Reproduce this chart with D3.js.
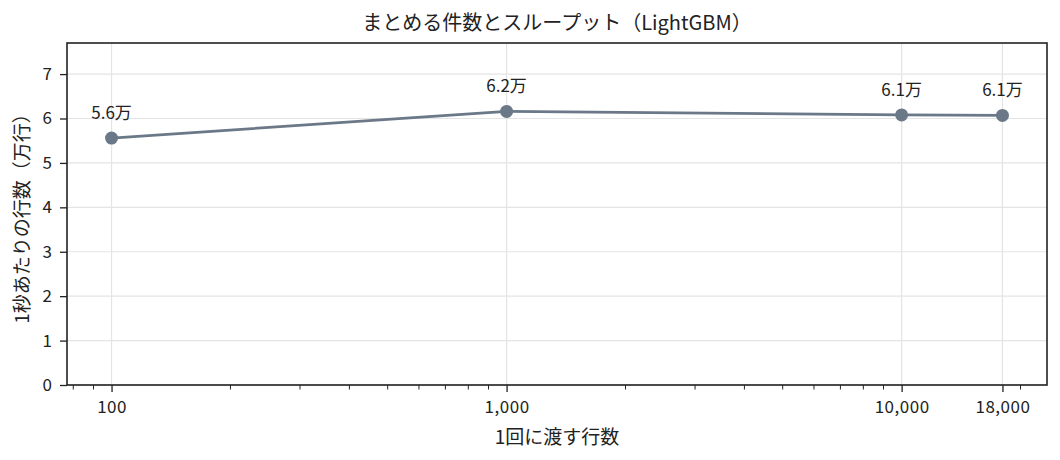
<!DOCTYPE html>
<html>
<head>
<meta charset="utf-8">
<script src="https://cdn.jsdelivr.net/npm/d3@7"></script>
<style>
  body { margin: 0; background: #fff; }
  svg text { font-family: "Noto Sans CJK JP", "Noto Sans", sans-serif; fill: #222; }
</style>
</head>
<body>
<div id="chart"></div>
<script>
// Data
var batchSizes = [100, 1000, 10000, 18000];
var throughput = [5.56, 6.16, 6.08, 6.07];   // 万行 / 秒
var pointLabels = ["5.6万", "6.2万", "6.1万", "6.1万"];
var yTicks = [0, 1, 2, 3, 4, 5, 6, 7];

var W = 1060, H = 460;
var margin = {top: 43, right: 13, bottom: 75, left: 67},
    width = W - margin.left - margin.right,
    height = H - margin.top - margin.bottom;

var svg = d3.select("#chart").append("svg")
    .attr("width", W).attr("height", H);

var g = svg.append("g")
    .attr("transform", "translate(" + margin.left + "," + margin.top + ")");

// log x range with 5% padding like matplotlib
var lo = Math.log10(100), hi = Math.log10(18000), pad = (hi - lo) * 0.05;
var x = d3.scaleLog()
    .domain([Math.pow(10, lo - pad), Math.pow(10, hi + pad)])
    .range([0, width]);
var y = d3.scaleLinear().domain([0, 7.7]).range([height, 0]);

// grid
g.append("g").selectAll("line").data(batchSizes).enter().append("line")
    .attr("x1", function(d) { return x(d); }).attr("x2", function(d) { return x(d); })
    .attr("y1", 0).attr("y2", height)
    .attr("stroke", "#e4e4e4").attr("stroke-width", 1.2);
g.append("g").selectAll("line").data(yTicks).enter().append("line")
    .attr("x1", 0).attr("x2", width)
    .attr("y1", function(d) { return y(d); }).attr("y2", function(d) { return y(d); })
    .attr("stroke", "#e4e4e4").attr("stroke-width", 1.2);

// minor x ticks
var minor = x.ticks().filter(function(d) { return batchSizes.indexOf(d) < 0; });
g.append("g").attr("transform", "translate(0," + height + ")")
  .selectAll("line").data(minor).enter().append("line")
    .attr("x1", function(d) { return x(d); }).attr("x2", function(d) { return x(d); })
    .attr("y1", 0).attr("y2", 4.5)
    .attr("stroke", "#222").attr("stroke-width", 1);

// x axis
var xAxis = g.append("g")
    .attr("transform", "translate(0," + height + ")")
    .call(d3.axisBottom(x).tickValues(batchSizes).tickFormat(d3.format(",")).tickSize(7).tickPadding(9));
xAxis.select(".domain").remove();
xAxis.selectAll("line").attr("stroke", "#222").attr("stroke-width", 1.3);
xAxis.selectAll("text").style("font-size", "17px").style("letter-spacing", "0.5px");

// y axis
var yAxis = g.append("g")
    .call(d3.axisLeft(y).tickValues(yTicks).tickSize(7).tickPadding(8));
yAxis.select(".domain").remove();
yAxis.selectAll("line").attr("stroke", "#222").attr("stroke-width", 1.3);
yAxis.selectAll("text").style("font-size", "17px");

// frame
g.append("rect").attr("width", width).attr("height", height)
    .attr("fill", "none").attr("stroke", "#222").attr("stroke-width", 1.6);

// line + markers
var pts = batchSizes.map(function(d, i) { return {x: d, y: throughput[i], label: pointLabels[i]}; });
var line = d3.line().x(function(d) { return x(d.x); }).y(function(d) { return y(d.y); });
g.append("path").datum(pts).attr("d", line)
    .attr("fill", "none").attr("stroke", "#6b7888").attr("stroke-width", 2.8);
g.selectAll("circle").data(pts).enter().append("circle")
    .attr("cx", function(d) { return x(d.x); }).attr("cy", function(d) { return y(d.y); })
    .attr("r", 6.5).attr("fill", "#6b7888");
g.selectAll(".lbl").data(pts).enter().append("text")
    .attr("x", function(d) { return x(d.x); }).attr("y", function(d) { return y(d.y) - 19; })
    .attr("text-anchor", "middle").style("font-size", "17px")
    .text(function(d) { return d.label; });

// titles
svg.append("text").attr("x", margin.left + width / 2).attr("y", 30)
    .attr("text-anchor", "middle").style("font-size", "20px")
    .text("まとめる件数とスループット（LightGBM）");
svg.append("text").attr("x", margin.left + width / 2).attr("y", 444)
    .attr("text-anchor", "middle").style("font-size", "19px")
    .text("1回に渡す行数");
svg.append("text")
    .attr("transform", "translate(29," + (margin.top + height / 2) + ") rotate(-90)")
    .attr("text-anchor", "middle").style("font-size", "19px")
    .text("1秒あたりの行数（万行）");
</script>
</body>
</html>
